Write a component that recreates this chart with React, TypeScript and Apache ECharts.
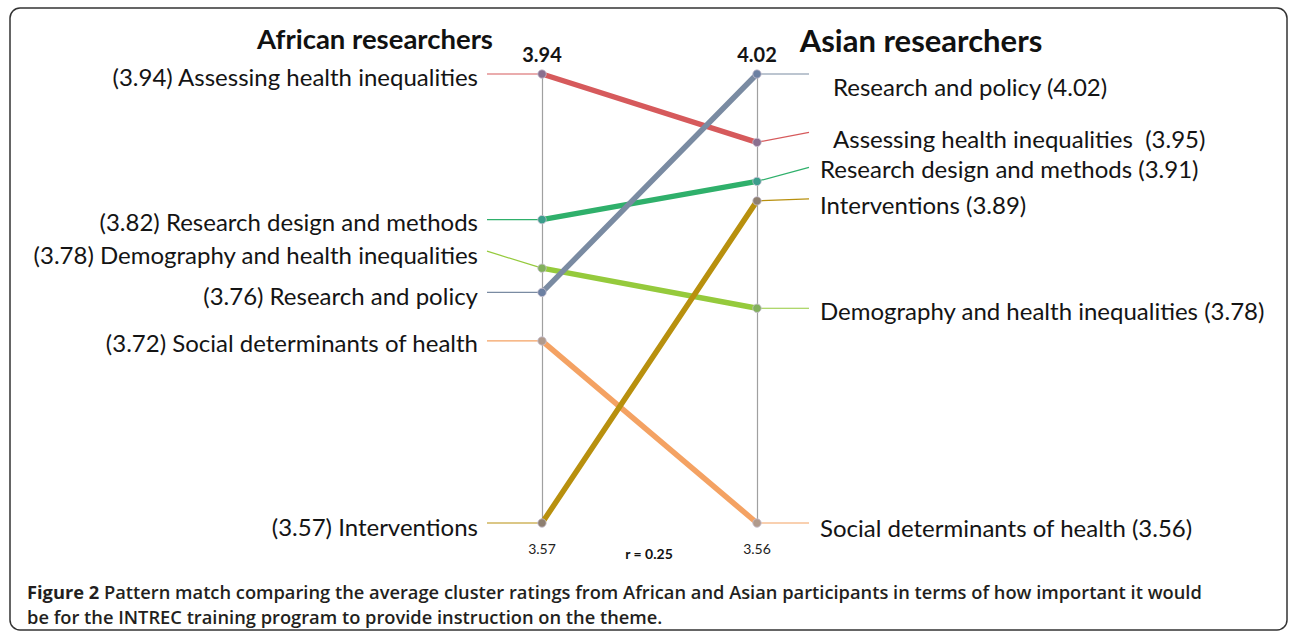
import React, { useEffect, useRef } from "react";
import * as echarts from "echarts";

// ---- data ----
const clusters = [
  "Assessing health inequalities",
  "Research design and methods",
  "Demography and health inequalities",
  "Social determinants of health",
  "Interventions",
  "Research and policy",
];
const africanRatings = [3.94, 3.82, 3.78, 3.72, 3.57, 3.76];
const asianRatings = [3.95, 3.91, 3.78, 3.56, 3.89, 4.02];
const groupTitles = ["African researchers", "Asian researchers"];
const correlationText = "r = 0.25";
const captionBold = "Figure 2";
const captionLine1 =
  " Pattern match comparing the average cluster ratings from African and Asian participants in terms of how important it would";
const captionLine2 =
  "be for the INTREC training program to provide instruction on the theme.";

// ---- styles / layout (not data) ----
const lineColors = ["#d65a5c", "#2fb06b", "#95ca3c", "#f4a263", "#b8900e", "#7a8ba2"];
const markerColors = ["#8a6f8f", "#3c9e8c", "#82b05c", "#b09a8c", "#8e7f70", "#6c80a2"];
const leftLabelDy = [2, 2, -14, 2, 3, 3];
const leftLeaderDy = [0, 0, -17, 0, 0, 0];
const rightLabelDy = [-4, -13, 2, 4, 4, 12];
const rightLeaderDy = [-10, -14, 0, 0, -2, 0];
const rightLabelDx = [76, 63, 63, 63, 63, 76];
const rightGap = ["  ", " ", " ", " ", " ", " "];
const FONT = "Lato";
const LABEL_SIZE = 24;
const CAPTION_FONT = "'Open Sans'";
const CAPTION_SIZE = 18.3;

export default function App() {
  const ref = useRef<HTMLDivElement>(null);

  useEffect(() => {
    if (!ref.current) return;
    const chart = echarts.init(ref.current, null, { renderer: "svg" });

    const pairData = clusters.map((_, i) => [africanRatings[i], asianRatings[i]]);

    const renderPair = (params: any, api: any) => {
      const i = params.dataIndex;
      const l = api.value(0);
      const r = api.value(1);
      const p1 = api.coord([0, l]);
      let p2: any;
      try {
        p2 = chart.convertToPixel({ xAxisIndex: 0, yAxisIndex: 1 } as any, [1, r]);
      } catch (e) {
        p2 = null;
      }
      if (!p2) return null;
      const c = lineColors[i];
      const children: any[] = [
        {
          type: "line",
          shape: { x1: p1[0] - 55, y1: p1[1] + leftLeaderDy[i], x2: p1[0], y2: p1[1] },
          style: { stroke: c, lineWidth: 1.2 },
        },
        {
          type: "line",
          shape: { x1: p2[0], y1: p2[1], x2: p2[0] + 52, y2: p2[1] + rightLeaderDy[i] },
          style: { stroke: c, lineWidth: 1.2 },
        },
        {
          type: "line",
          shape: { x1: p1[0], y1: p1[1], x2: p2[0], y2: p2[1] },
          style: { stroke: c, lineWidth: 5.5, lineCap: "round" },
        },
        {
          type: "circle",
          shape: { cx: p1[0], cy: p1[1], r: 4.2 },
          style: { fill: markerColors[i], stroke: "#c8c0d0", lineWidth: 0.8 },
        },
        {
          type: "circle",
          shape: { cx: p2[0], cy: p2[1], r: 4.2 },
          style: { fill: markerColors[i], stroke: "#c8c0d0", lineWidth: 0.8 },
        },
        {
          type: "text",
          style: {
            text: `(${l.toFixed(2)}) ${clusters[i]}`,
            x: p1[0] - 64,
            y: p1[1] + leftLabelDy[i],
            align: "right",
            verticalAlign: "middle",
            font: `${LABEL_SIZE}px ${FONT}`,
            fill: "#141414",
          },
        },
        {
          type: "text",
          style: {
            text: `${clusters[i]}${rightGap[i]}(${r.toFixed(2)})`,
            x: p2[0] + rightLabelDx[i],
            y: p2[1] + rightLabelDy[i],
            align: "left",
            verticalAlign: "middle",
            font: `${LABEL_SIZE}px ${FONT}`,
            fill: "#141414",
          },
        },
      ];
      return { type: "group", children };
    };

    const renderEnds = (params: any, api: any) => {
      const x = api.value(0);
      const top = api.coord([x, api.value(1)]);
      const bot = api.coord([x, api.value(2)]);
      return {
        type: "group",
        children: [
          {
            type: "text",
            style: {
              text: api.value(1).toFixed(2),
              x: top[0],
              y: top[1] - 20,
              align: "center",
              verticalAlign: "middle",
              font: `bold 20px ${FONT}`,
              fill: "#141414",
            },
          },
          {
            type: "text",
            style: {
              text: api.value(2).toFixed(2),
              x: bot[0],
              y: bot[1] + 25,
              align: "center",
              verticalAlign: "middle",
              font: `14px ${FONT}`,
              fill: "#222",
            },
          },
        ],
      };
    };

    const option: any = {
      animation: false,
      backgroundColor: "#ffffff",
      grid: { left: 542, right: 533, top: 74, bottom: 111 },
      xAxis: {
        type: "value",
        min: 0,
        max: 1,
        show: false,
      },
      yAxis: [
        {
          type: "value",
          min: Math.min(...africanRatings),
          max: Math.max(...africanRatings),
          position: "left",
          axisLine: { show: true, lineStyle: { color: "#a0a0a0", width: 1.2 } },
          axisTick: { show: false },
          axisLabel: { show: false },
          splitLine: { show: false },
        },
        {
          type: "value",
          min: Math.min(...asianRatings),
          max: Math.max(...asianRatings),
          position: "right",
          axisLine: { show: true, lineStyle: { color: "#a0a0a0", width: 1.2 } },
          axisTick: { show: false },
          axisLabel: { show: false },
          splitLine: { show: false },
        },
      ],
      graphic: [
        {
          type: "rect",
          shape: { x: 10, y: 8, width: 1277, height: 622, r: 10 },
          style: { fill: "none", stroke: "#333", lineWidth: 1.5 },
          silent: true,
        },
        {
          type: "text",
          x: 375,
          y: 38,
          style: {
            text: groupTitles[0],
            align: "center",
            verticalAlign: "middle",
            font: `bold 27.5px ${FONT}`,
            fill: "#111",
          },
        },
        {
          type: "text",
          x: 921,
          y: 40,
          style: {
            text: groupTitles[1],
            align: "center",
            verticalAlign: "middle",
            font: `bold 31px ${FONT}`,
            fill: "#111",
          },
        },
        {
          type: "text",
          x: 649,
          y: 553,
          style: {
            text: correlationText,
            align: "center",
            verticalAlign: "middle",
            font: `bold 14px ${FONT}`,
            fill: "#111",
          },
        },
        {
          type: "text",
          x: 27,
          y: 579,
          style: {
            text: `{b|${captionBold}}{n|${captionLine1}}\n{n|${captionLine2}}`,
            verticalAlign: "top",
            rich: {
              b: { font: `bold ${CAPTION_SIZE}px ${CAPTION_FONT}`, fill: "#231f20", lineHeight: 25 },
              n: { font: `600 ${CAPTION_SIZE}px ${CAPTION_FONT}`, fill: "#231f20", lineHeight: 25 },
            },
          },
        },
      ],
      series: [
        {
          type: "custom",
          xAxisIndex: 0,
          yAxisIndex: 0,
          renderItem: renderEnds,
          data: [[0, Math.max(...africanRatings), Math.min(...africanRatings)]],
          encode: { x: 0, y: [1, 2] },
          silent: true,
        },
        {
          type: "custom",
          xAxisIndex: 0,
          yAxisIndex: 1,
          renderItem: renderEnds,
          data: [[1, Math.max(...asianRatings), Math.min(...asianRatings)]],
          encode: { x: 0, y: [1, 2] },
          silent: true,
        },
        {
          type: "custom",
          xAxisIndex: 0,
          yAxisIndex: 0,
          renderItem: renderPair,
          data: pairData,
          encode: { y: 0 },
          silent: true,
        },
      ],
    };

    chart.setOption(option);
    return () => chart.dispose();
  }, []);

  return (
    <div
      ref={ref}
      style={{ position: "absolute", left: 0, top: 0, width: 1290, height: 634 }}
    />
  );
}
